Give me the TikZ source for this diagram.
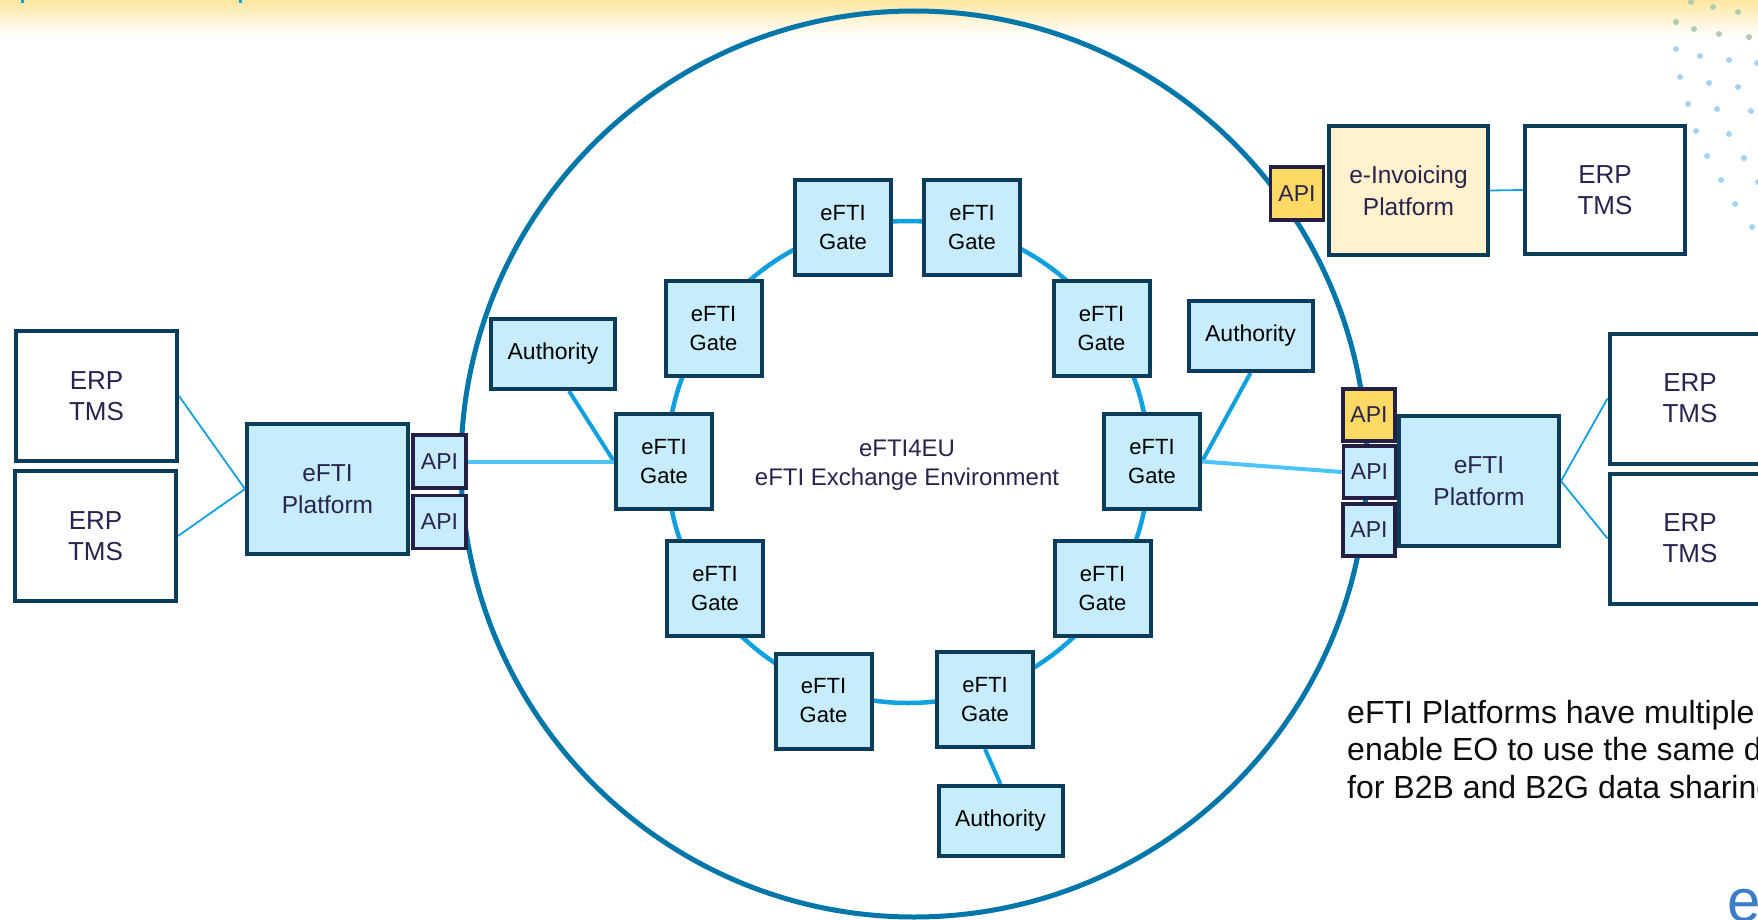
\documentclass[tikz,border=0pt]{standalone}
\usepackage{fontspec}
\setmainfont{Liberation Sans}
\definecolor{boxc}{HTML}{0B3D5B}
\definecolor{apic}{HTML}{231F45}
\definecolor{gatefill}{HTML}{C7ECFC}
\definecolor{apiyel}{HTML}{FFD966}
\definecolor{einvfill}{HTML}{FFF2CC}
\definecolor{txtc}{HTML}{28244F}
\definecolor{bigc}{HTML}{0077A8}
\definecolor{ringc}{HTML}{0EA0DF}
\definecolor{linkc}{HTML}{4CC4F6}
\definecolor{thinc}{HTML}{13A0E0}
\definecolor{topyel}{HTML}{FFE6A0}
\definecolor{dotb}{HTML}{A5D3F3}
\definecolor{dotg}{HTML}{AFCDB2}
\definecolor{logob}{HTML}{3B7DC9}
\definecolor{notec}{HTML}{0D0D0D}
\newcommand{\fgate}{\fontsize{22}{29}\selectfont}
\newcommand{\fauth}{\fontsize{23}{28}\selectfont}
\newcommand{\ferp}{\fontsize{26}{31}\selectfont}
\newcommand{\fplat}{\fontsize{24.5}{32}\selectfont}
\newcommand{\fapi}{\fontsize{23}{28}\selectfont}
\newcommand{\fcent}{\fontsize{24}{29}\selectfont}
\newcommand{\fnote}{\fontsize{32}{37.5}\selectfont}
\pgfdeclarelayer{back}
\pgfsetlayers{back,main}
\tikzset{
  box/.style={draw=boxc, line width=4pt, inner sep=0pt, align=center},
  gate/.style={box, fill=gatefill, minimum width=96pt, minimum height=95pt, font=\fgate, text=black},
  auth/.style={box, fill=gatefill, minimum width=124pt, minimum height=70pt, font=\fauth, text=black},
  erp/.style={box, fill=white, minimum width=161pt, minimum height=130pt, font=\ferp, text=txtc},
  plat/.style={box, fill=gatefill, minimum width=160pt, minimum height=130pt, font=\fplat, text=txtc},
  einv/.style={plat, fill=einvfill},
  api/.style={draw=apic, line width=3.5pt, inner sep=0pt, fill=gatefill, minimum width=53pt, minimum height=53pt, font=\fapi, text=txtc},
  apiy/.style={api, fill=apiyel},
  ringlink/.style={draw=ringc, line width=4pt},
  apilink/.style={draw=linkc, line width=4pt},
  thinlink/.style={draw=thinc, line width=1.8pt},
  note/.style={anchor=base west, inner sep=0pt, font=\fnote, text=notec},
  centre/.style={anchor=base, inner sep=0pt, font=\fcent, text=txtc}
}
\begin{document}
\begin{tikzpicture}[x=1pt,y=-1pt]
\useasboundingbox (0,0) rectangle (1758,920);
\clip (0,0) rectangle (1758,920);

% eFTI gates on the ring
\node[gate] (g1) at (843,227.5) {eFTI\\Gate};
\node[gate] (g2) at (972,227.5) {eFTI\\Gate};
\node[gate] (g3) at (713.5,328.5) {eFTI\\Gate};
\node[gate] (g4) at (1101.5,328.5) {eFTI\\Gate};
\node[gate] (g5) at (664,461.5) {eFTI\\Gate};
\node[gate] (g6) at (1152,461.5) {eFTI\\Gate};
\node[gate] (g7) at (715,588.5) {eFTI\\Gate};
\node[gate] (g8) at (1102.5,588.5) {eFTI\\Gate};
\node[gate] (g9) at (823.5,701) {eFTI\\Gate};
\node[gate] (g10) at (985,699.5) {eFTI\\Gate};

% authorities
\node[auth] (la) at (553,354) {Authority};
\node[auth] (ra) at (1250.5,336) {Authority};
\node[auth] (ba) at (1000.5,821) {Authority};

% centre label
\node[centre] (t1) at (907,456) {eFTI4EU};
\node[centre] (t2) at (907,485) {eFTI Exchange Environment};

% left side
\node[erp] (le1) at (96.5,396) {ERP\\TMS};
\node[erp] (le2) at (95.5,536) {ERP\\TMS};
\node[plat, minimum width=161pt] (lp) at (327.5,489) {eFTI\\Platform};
\node[api] (lapi1) at (439.5,461.5) {API};
\node[api] (lapi2) at (439.5,522) {API};

% top right
\node[apiy] (tapi) at (1297,193.5) {API};
\node[einv, minimum width=159pt, minimum height=129pt] (ei) at (1408.5,190.5) {e-Invoicing\\Platform};
\node[erp, minimum width=160pt, minimum height=128pt] (te) at (1605,190) {ERP\\TMS};

% right side
\node[apiy, minimum width=52pt, minimum height=52pt] (rapi1) at (1369,415) {API};
\node[api, minimum width=52pt, minimum height=52pt] (rapi2) at (1369.5,472) {API};
\node[api, minimum width=52pt, minimum height=52pt] (rapi3) at (1369,530) {API};
\node[plat] (rp) at (1479,481) {eFTI\\Platform};
\node[erp] (re1) at (1690,398.5) {ERP\\TMS};
\node[erp] (re2) at (1690,538.5) {ERP\\TMS};

% note text
\node[note] (n1) at (1347,723) {eFTI Platforms have multiple};
\node[note] (n2) at (1347,760.5) {enable EO to use the same d};
\node[note] (n3) at (1347,798) {for B2B and B2G data sharing};

% logo letter
\node[anchor=base west, inner sep=0pt, font=\fontsize{60}{60}\selectfont, text=logob] (logoe) at (1727,921) {e};

\begin{pgfonlayer}{back}
  \fill[white] (0,0) rectangle (1758,920);
  \shade[top color=topyel, bottom color=white] (0,0) rectangle (1758,36);
  \fill[thinc] (21,0) rectangle (24,3);
  \fill[thinc] (239,0) rectangle (242,3);
  \foreach \px/\py in {1691/2,1713/7,1738/12,1676/22,1694/29,1719/34,1749/37}
    \fill[dotg] (\px,\py) circle (3);
  \foreach \px/\py in {1676/49,1700/56,1729/60,1757/63,1680/77,1709/83,1738/87,1688/104,1717/109,1751/111,1696/131,1729/134,1707/156,1744/158,1721/180,1758/182,1735/204,1752/227}
    \fill[dotb] (\px,\py) circle (3);
  % exchange environment and gate ring
  \draw[bigc, line width=5pt] (914,464) circle (453);
  \draw[ringc, line width=4.5pt] (908,462) circle (241);
  % connectors
  \draw[ringlink] ([xshift=16pt]la.south) -- (g5.west);
  \draw[ringlink] (ra.south) -- (g6.east);
  \draw[ringlink] (g10.south) -- (ba.north);
  \draw[apilink] (lapi1.east) -- (g5.west);
  \draw[apilink] (g6.east) -- (rapi2.west);
  \draw[thinlink] (le1.east) -- (lp.west);
  \draw[thinlink] (le2.east) -- (lp.west);
  \draw[thinlink] (rp.east) -- (re1.west);
  \draw[thinlink] (rp.east) -- (re2.west);
  \draw[thinlink] (ei.east) -- (te.west);
\end{pgfonlayer}
\end{tikzpicture}
\end{document}
